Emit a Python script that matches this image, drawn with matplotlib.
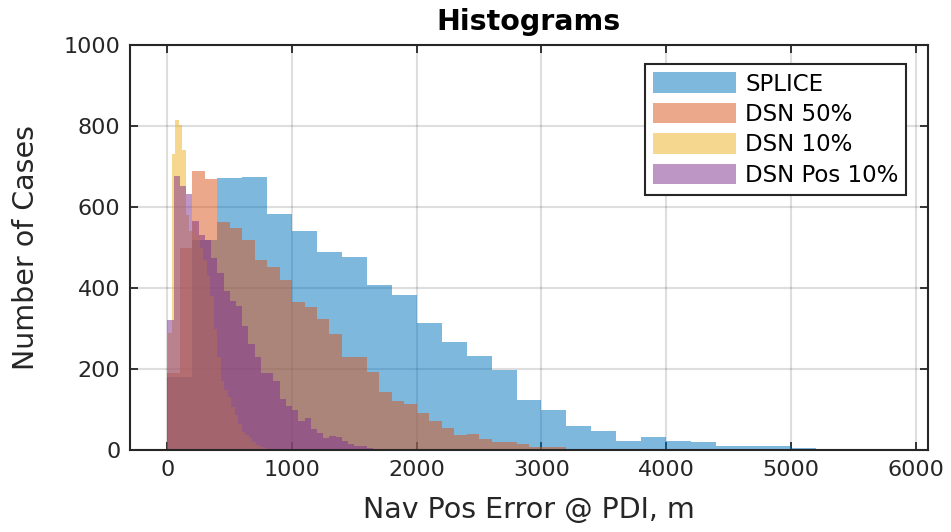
"""Overlaid histograms of nav position error at PDI"""

import numpy as np
from matplotlib import pyplot as plt

# Bin counts (bins start at *_start, fixed width)
splice_start, splice_width = 0, 200
splice_counts = [180, 518, 671, 673, 583, 541, 489, 476, 407, 383, 313, 267,
                 232, 197, 123, 100, 60, 48, 22, 33, 23, 20, 11, 11, 9, 4, 3]

dsn50_start, dsn50_width = 0, 100
dsn50_counts = [190, 500, 689, 668, 563, 548, 518, 469, 453, 421, 365, 354,
                324, 286, 229, 229, 193, 143, 121, 114, 91, 72, 55, 37, 40,
                26, 20, 19, 15, 8, 7, 7, 3, 2, 1]

dsn10_start, dsn10_width = 7, 28
dsn10_counts = [289, 732, 816, 802, 741, 580, 540, 560, 530, 500, 470, 430,
                380, 300, 230, 170, 148, 130, 105, 86, 65, 45, 37, 30, 20,
                12, 7, 4, 2, 1]

dsnpos_start, dsnpos_width = 0, 50
dsnpos_counts = [320, 677, 652, 631, 565, 531, 518, 475, 436, 393, 367, 356,
                 305, 262, 230, 189, 189, 170, 125, 108, 100, 72, 78, 51, 43,
                 30, 35, 31, 22, 15, 9, 9, 4, 3, 3, 2, 2, 1]

labels = ["SPLICE", "DSN 50%", "DSN 10%", "DSN Pos 10%"]
colors = ["#0072bd", "#d95319", "#edb120", "#7e2f8e"]

x_ticks = [0, 1000, 2000, 3000, 4000, 5000, 6000]
y_ticks = [0, 200, 400, 600, 800, 1000]


def edges_for(start, width, counts):
    """Bin edges for COUNTS with first edge START and bin WIDTH"""
    return start + width * np.arange(len(counts) + 1)


def main():
    """Entry point"""
    fig = plt.figure(figsize=(9.51, 5.32), dpi=100)
    ax = fig.add_axes([0.1367, 0.1541, 0.8391, 0.7613])

    series = [(splice_start, splice_width, splice_counts),
              (dsn50_start, dsn50_width, dsn50_counts),
              (dsn10_start, dsn10_width, dsn10_counts),
              (dsnpos_start, dsnpos_width, dsnpos_counts)]
    for (start, width, counts), label, color in zip(series, labels, colors):
        ax.stairs(counts, edges_for(start, width, counts), fill=True,
                  color=color, alpha=0.5, linewidth=0, label=label, zorder=2)

    ax.set_xlim(-300, 6100)
    ax.set_ylim(0, 1000)
    ax.set_xticks(x_ticks)
    ax.set_yticks(y_ticks)
    ax.grid(True, color="#262626", alpha=0.15, linewidth=1.5, zorder=1)
    ax.set_axisbelow(True)
    ax.tick_params(direction="in", length=6, width=1.3, top=True, right=True,
                   labelsize=16, colors="#262626", pad=7)
    for spine in ax.spines.values():
        spine.set_color("#262626")
        spine.set_linewidth(1.5)
        spine.set_zorder(5)

    ax.set_xlabel("Nav Pos Error @ PDI, m", fontsize=20.5, color="#262626",
                  labelpad=12)
    ax.set_ylabel("Number of Cases", fontsize=20.5, color="#262626",
                  labelpad=17)
    ax.set_title("Histograms", fontsize=20.5, fontweight="bold", pad=11)

    leg = ax.legend(loc="upper right", bbox_to_anchor=(0.973, 0.952),
                    borderaxespad=0, fontsize=16.5, fancybox=False,
                    framealpha=1, edgecolor="#262626", handlelength=3.6,
                    handleheight=1.0, labelspacing=0.32, borderpad=0.35,
                    handletextpad=0.4)
    leg.get_frame().set_linewidth(1.5)

    plt.savefig("out.png", dpi=100)

#-------------------------------------------------------------------------------

if __name__ == "__main__":
    main()
